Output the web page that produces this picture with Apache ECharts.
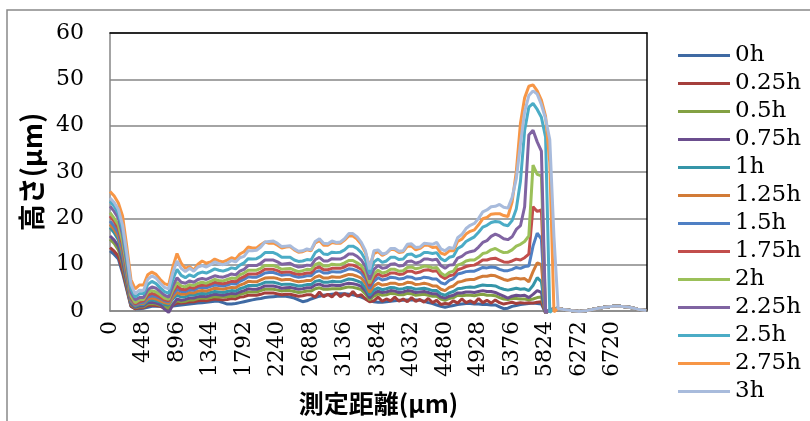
<!DOCTYPE html>
<html>
<head>
<meta charset="utf-8">
<script src="https://cdn.jsdelivr.net/npm/echarts@6/dist/echarts.min.js"></script>
<style>
  html, body { margin: 0; padding: 0; background: #fff; }
  #chart { width: 810px; height: 421px; }
</style>
</head>
<body>
<div id="chart"></div>
<script>
// Measuring positions along the profile (µm)
const distance = [
  0,56,112,168,224,280,336,392,448,504,560,616,672,728,784,840,896,952,1008,1064,
  1120,1176,1232,1288,1344,1400,1456,1512,1568,1624,1680,1736,1792,1848,1904,1960,2016,2072,2128,2184,
  2240,2296,2352,2408,2464,2520,2576,2632,2688,2744,2800,2856,2912,2968,3024,3080,3136,3192,3248,3304,
  3360,3416,3472,3528,3584,3640,3696,3752,3808,3864,3920,3976,4032,4088,4144,4200,4256,4312,4368,4424,
  4480,4536,4592,4648,4704,4760,4816,4872,4928,4984,5040,5096,5152,
  5208,5264,5320,5376,5432,5488,5544,5600,5656,5712,5768,5824,5880,5936,5992,6048,
  6160,6272,6384,6496,6608,6720,6832,6944,7056,7168
];

// Height (µm) at each position, one array per elapsed time
const h0 = [
  13.0,12.2,11.2,8.2,4.6,1.0,0.5,0.5,0.6,0.8, 1.0,1.0,1.0,1.0,1.0,1.1,1.2,1.3,1.4,1.5,
  1.6,1.7,1.8,1.9,2.0,2.1,2.1,1.8,1.5,1.5, 1.6,1.8,2.0,2.2,2.4,2.6,2.7,2.9,3.0,3.1,
  3.2,3.2,3.2,3.0,2.8,2.4,2.0,2.2,2.6,2.9, 3.2,3.4,3.5,3.6,3.7,3.7,3.7,3.6,3.5,3.3,
  3.0,2.6,2.2,2.0,1.9,1.9,2.0,2.1,2.2,2.3, 2.3,2.4,2.4,2.4,2.3,2.1,1.8,1.6,1.3,1.0,
  0.8,1.0,1.2,1.4,1.5,1.6,1.6,1.5,1.5,1.4, 1.4,1.3,1.3,
  0.9,0.5,0.6,1.0,1.2,1.4,1.5,1.6,1.7,1.6,1.5,
  -0.4,0.2,0.5,0.6,0.4,0.1,-0.1,0.1,0.5,0.8,1.0,1.0,0.8,0.4,0.1];
const h025 = [
  13.7,12.9,11.8,8.8,5.0,1.1,0.5,0.7,0.7,1.2, 1.3,1.2,1.0,0.6,0.5,1.2,1.8,1.7,1.8,2.0,
  2.0,2.2,2.3,2.2,2.4,2.6,2.5,2.4,2.5,2.7, 2.6,3.0,3.1,3.4,3.4,3.4,3.6,3.9,3.9,3.9,
  3.7,3.5,3.6,3.6,3.4,3.2,3.3,3.5,3.5,3.0, 4.1,3.1,3.6,3.0,4.0,3.1,3.7,3.2,4.2,3.2,
  3.5,2.6,2.0,2.2,3.0,2.1,2.6,2.2,3.0,2.1, 2.6,2.0,2.9,2.1,2.5,1.9,2.7,1.8,2.3,1.4,
  1.6,1.5,2.2,1.7,2.6,1.8,2.2,1.7,2.7,1.8, 2.3,1.7,2.4,
  1.8,1.5,1.7,1.9,1.6,1.8,1.7,1.8,1.7,1.9,2.0,
  -0.4,0.2,0.5,0.6,0.4,0.1,-0.1,0.1,0.5,0.8,1.0,1.0,0.8,0.4,0.1];
const h05 = [
  15.5,14.6,13.2,10.0,5.6,1.4,0.7,0.9,0.9,1.5, 1.6,1.5,1.2,0.8,0.6,1.5,2.2,2.0,2.1,2.4,
  2.4,2.7,2.8,2.7,2.9,3.1,3.0,3.0,3.1,3.2, 3.2,3.6,3.8,4.1,4.1,4.1,4.4,4.7,4.7,4.7,
  4.5,4.3,4.4,4.4,4.2,4.0,4.1,4.3,4.3,4.8, 5.0,4.7,4.7,4.8,4.8,4.8,5.0,5.2,5.1,4.9,
  4.6,3.7,2.4,3.2,3.7,3.4,3.5,3.8,3.7,3.5, 3.5,3.8,3.7,3.4,3.5,3.6,3.4,3.2,3.2,2.6,
  2.3,2.7,2.9,3.4,3.3,3.4,3.4,3.3,3.5,3.6, 3.4,3.4,3.3,
  2.9,2.6,2.5,2.7,2.7,2.6,2.6,2.4,2.6,2.9,3.0,
  -0.4,0.2,0.5,0.6,0.4,0.1,-0.1,0.1,0.5,0.8,1.0,1.0,0.8,0.4,0.1];
const h075 = [
  16.2,15.3,14.0,10.6,6.2,1.6,0.8,1.1,1.1,1.8, 1.9,1.7,1.4,0.4,-0.3,1.3,2.6,2.3,2.5,2.8,
  2.8,3.1,3.2,3.1,3.4,3.6,3.5,3.4,3.6,3.8, 3.7,4.1,4.4,4.8,4.7,4.7,5.0,5.4,5.4,5.4,
  5.2,4.9,5.0,5.1,4.9,4.7,4.8,5.0,5.0,5.6, 5.8,5.4,5.4,5.6,5.5,5.5,5.8,6.0,5.9,5.7,
  5.3,4.3,2.8,3.8,4.3,4.0,4.1,4.4,4.3,4.0, 4.1,4.4,4.3,4.0,4.1,4.2,4.0,3.7,3.7,3.0,
  2.8,3.2,3.4,3.9,3.9,4.1,4.1,4.0,4.2,4.4, 4.2,4.2,4.0,
  3.6,3.2,2.8,3.2,3.4,3.3,3.4,2.9,3.6,4.4,4.0,
  -0.4,0.2,0.5,0.6,0.4,0.1,-0.1,0.1,0.5,0.8,1.0,1.0,0.8,0.4,0.1];
const h1 = [
  18.0,16.9,15.3,11.8,7.0,2.0,1.0,1.4,1.4,2.2, 2.4,2.2,1.9,1.5,1.4,2.6,3.4,3.0,3.1,3.5,
  3.4,3.7,3.8,3.7,4.0,4.2,4.1,4.0,4.2,4.4, 4.3,4.8,5.1,5.5,5.5,5.5,5.8,6.2,6.2,6.2,
  6.0,5.7,5.8,5.8,5.6,5.4,5.5,5.7,5.7,6.4, 6.6,6.2,6.2,6.4,6.3,6.3,6.6,6.9,6.8,6.5,
  6.1,5.0,3.4,4.5,5.0,4.6,4.8,5.1,5.0,4.7, 4.8,5.1,5.0,4.7,4.8,4.9,4.7,4.4,4.4,3.7,
  3.4,3.9,4.2,4.8,4.9,5.1,5.2,5.1,5.4,5.6, 5.5,5.5,5.4,
  5.0,4.7,4.5,4.7,4.9,4.7,4.8,4.4,5.5,7.2,6.3,
  -0.4,0.2,0.5,0.6,0.4,0.1,-0.1,0.1,0.5,0.8,1.0,1.0,0.8,0.4,0.1];
const h125 = [
  18.7,17.6,16.0,12.6,7.5,2.3,1.2,1.6,1.6,2.6, 2.8,2.6,2.2,1.8,1.6,3.0,4.0,3.6,3.6,4.0,
  3.9,4.3,4.4,4.3,4.6,4.9,4.8,4.7,4.9,5.1, 5.0,5.6,5.9,6.4,6.3,6.3,6.7,7.1,7.2,7.2,
  7.0,6.7,6.8,6.8,6.5,6.3,6.4,6.6,6.6,7.3, 7.6,7.1,7.1,7.4,7.3,7.3,7.6,7.9,7.8,7.5,
  7.1,6.0,4.0,5.4,6.0,5.6,5.7,6.0,6.0,5.7, 5.8,6.2,6.1,5.7,5.8,6.0,5.8,5.4,5.4,4.7,
  4.4,5.1,5.4,6.2,6.4,6.7,6.8,6.8,7.2,7.5, 7.5,7.7,7.6,
  7.2,6.8,6.6,6.9,7.1,6.9,7.0,6.3,8.5,10.4,10.0,
  -0.4,0.2,0.5,0.6,0.4,0.1,-0.1,0.1,0.5,0.8,1.0,1.0,0.8,0.4,0.1];
const h15 = [
  19.4,18.3,16.8,13.4,8.2,2.6,1.3,1.8,1.9,3.0, 3.3,3.1,2.7,2.2,2.0,3.6,4.7,4.2,4.2,4.6,
  4.5,5.0,5.1,5.0,5.3,5.6,5.5,5.4,5.6,5.9, 5.8,6.4,6.8,7.4,7.3,7.3,7.7,8.2,8.3,8.3,
  8.0,7.7,7.8,7.8,7.5,7.3,7.4,7.6,7.6,8.4, 8.7,8.2,8.2,8.5,8.4,8.4,8.7,9.1,9.0,8.7,
  8.2,7.0,4.8,6.4,7.2,6.7,6.9,7.3,7.2,6.9, 7.0,7.4,7.3,6.9,7.0,7.3,7.2,6.9,6.9,6.1,
  5.8,6.6,7.0,8.0,8.2,8.5,8.6,8.6,9.0,9.4, 9.3,9.5,9.4,
  9.0,8.7,8.7,9.0,9.4,9.2,9.6,9.7,14.0,16.8,15.5,
  -0.4,0.2,0.5,0.6,0.4,0.1,-0.1,0.1,0.5,0.8,1.0,1.0,0.8,0.4,0.1];
const h175 = [
  20.5,19.3,17.8,14.2,8.8,2.9,1.5,2.0,2.2,3.4, 3.8,3.5,3.0,2.4,2.2,4.1,5.4,4.7,4.6,5.1,
  4.9,5.4,5.6,5.5,5.8,6.2,6.0,5.9,6.1,6.4, 6.3,7.0,7.4,8.0,8.0,8.0,8.4,9.0,9.0,9.0,
  8.7,8.3,8.4,8.4,8.1,7.9,8.0,8.2,8.2,9.2, 9.5,8.9,8.9,9.2,9.2,9.2,9.5,10.0,9.9,9.5,
  9.0,7.8,5.4,7.2,8.0,7.5,7.7,8.2,8.2,7.9, 8.0,8.6,8.6,8.2,8.4,8.8,8.9,8.6,8.7,7.5,
  7.0,7.6,7.8,8.9,9.2,9.6,9.8,9.9,10.4,11.0, 11.0,11.3,11.4,
  11.0,10.6,10.5,10.8,11.2,11.0,11.5,12.3,22.5,21.5,21.8,
  -0.4,0.2,0.5,0.6,0.4,0.1,-0.1,0.1,0.5,0.8,1.0,1.0,0.8,0.4,0.1];
const h2 = [
  21.2,20.0,18.6,15.0,9.5,3.3,1.8,2.4,2.5,4.0, 4.4,4.1,3.5,2.8,2.5,4.6,6.2,5.4,5.2,5.7,
  5.5,6.0,6.2,6.0,6.4,6.8,6.6,6.5,6.8,7.1, 7.0,7.8,8.2,8.8,8.8,8.8,9.2,9.8,9.8,9.8,
  9.5,9.0,9.1,9.2,8.8,8.5,8.7,9.0,8.9,10.0, 10.4,9.7,9.7,10.1,10.0,10.0,10.4,10.9,10.9,10.4,
  9.8,8.5,6.0,8.0,8.8,8.2,8.4,9.0,9.0,8.6, 8.7,9.4,9.5,9.1,9.3,9.7,9.6,9.3,9.4,8.2,
  7.6,8.3,8.6,9.9,10.2,10.8,11.0,11.0,11.6,12.4, 12.6,13.2,13.5,
  13.0,12.6,12.7,13.2,14.0,14.4,15.0,16.2,31.5,29.5,29.2,
  -0.4,0.2,0.5,0.6,0.4,0.1,-0.1,0.1,0.5,0.8,1.0,1.0,0.8,0.4,0.1];
const h225 = [
  22.6,21.5,20.0,16.5,10.5,4.0,2.4,2.9,2.9,4.6, 5.2,4.9,4.2,3.4,3.0,5.4,7.2,6.2,6.0,6.5,
  6.2,6.8,7.0,6.8,7.2,7.6,7.4,7.3,7.6,8.0, 7.8,8.6,9.0,9.8,9.8,9.8,10.3,11.0,11.0,11.0,
  10.6,10.1,10.2,10.3,9.8,9.5,9.6,9.9,9.8,11.1, 11.6,10.8,10.8,11.3,11.2,11.2,11.6,12.3,12.3,11.8,
  11.0,9.6,6.8,9.0,9.8,9.2,9.4,10.1,10.2,9.7, 9.8,10.7,10.8,10.3,10.6,11.2,11.2,11.0,11.2,9.8,
  9.2,9.9,10.0,11.4,11.8,12.5,12.8,13.0,13.8,14.8, 15.2,16.1,16.6,
  16.2,15.6,15.4,16.0,17.6,18.4,22.5,38.0,39.0,36.5,34.5,
  -0.4,0.2,0.5,0.6,0.4,0.1,-0.1,0.1,0.5,0.8,1.0,1.0,0.8,0.4,0.1];
const h25 = [
  23.7,22.6,21.0,17.5,11.5,4.8,3.0,3.7,3.7,5.7, 6.4,5.9,5.0,4.2,3.8,6.8,9.0,7.7,7.2,7.8,
  7.4,8.1,8.4,8.2,8.6,9.1,8.8,8.6,8.9,9.3, 9.1,9.9,10.4,11.3,11.2,11.3,11.8,12.6,12.6,12.6,
  12.2,11.6,11.6,11.6,11.0,10.7,10.8,11.1,11.0,12.6, 13.2,12.3,12.2,12.7,12.6,12.7,13.2,14.0,14.0,13.5,
  12.6,11.0,8.0,10.6,11.2,10.5,10.8,11.6,11.6,11.1, 11.2,12.2,12.3,11.7,12.0,12.6,12.6,12.4,12.6,11.3,
  10.8,11.6,11.8,13.5,14.0,15.0,15.5,16.0,17.0,18.1, 18.5,19.1,19.3,
  19.2,18.6,18.4,19.5,22.0,28.0,39.0,44.0,44.8,43.5,41.8,
  37.5,-0.3,0.5,0.6,0.4,0.1,-0.1,0.1,0.5,0.8,1.0,1.0,0.8,0.4,0.1];
const h275 = [
  25.8,24.8,23.3,20.5,14.0,6.8,4.8,5.6,5.6,7.8, 8.4,7.9,6.8,5.9,5.6,9.5,12.4,10.3,9.2,9.6,
  8.8,10.1,10.8,10.3,10.6,11.2,10.8,10.6,11.0,11.5, 11.2,12.3,12.8,13.8,13.6,13.6,14.3,14.9,14.6,14.7,
  14.2,13.6,13.8,13.9,13.2,12.7,12.8,13.2,13.0,14.7, 15.2,14.2,14.2,14.8,14.6,14.6,15.3,16.2,16.2,15.5,
  14.4,12.6,9.5,12.4,12.8,12.0,12.5,13.3,13.2,12.6, 12.8,14.0,14.0,13.2,13.5,14.2,14.2,13.7,13.8,12.5,
  12.2,13.0,13.0,15.0,15.5,16.6,17.2,17.5,18.6,19.9, 20.2,20.9,21.0,
  21.0,20.6,20.4,23.5,30.0,40.5,46.0,48.5,48.8,47.5,45.5,
  42.0,32.0,-0.2,0.6,0.4,0.1,-0.1,0.1,0.5,0.8,1.0,1.0,0.8,0.4,0.1];
const h3 = [
  24.4,23.4,21.9,18.5,12.5,5.8,3.7,4.5,4.4,6.8, 7.6,7.1,6.0,5.1,4.8,8.3,10.8,9.2,8.5,9.2,
  8.6,9.5,9.8,9.5,10.0,10.6,10.2,10.0,10.3,10.9, 10.6,11.5,11.8,13.0,13.0,13.1,13.8,14.9,15.0,15.1,
  14.6,13.9,14.0,14.1,13.4,12.9,13.0,13.4,13.2,15.0, 15.6,14.6,14.5,15.1,14.8,14.9,15.6,16.7,16.7,16.0,
  14.8,13.0,9.0,13.0,13.2,12.3,12.5,13.5,13.5,12.9, 13.0,14.4,14.5,13.7,13.8,14.6,14.5,14.4,14.8,13.4,
  13.0,13.7,13.5,15.8,16.5,17.8,18.5,18.9,20.0,21.4, 21.8,22.5,22.6,
  23.0,22.4,22.2,24.5,28.5,36.0,43.0,46.5,47.5,46.8,44.5,
  41.5,37.0,16.0,0.5,0.4,0.1,-0.1,0.1,0.5,0.8,1.0,1.0,0.8,0.4,0.1];

const seriesNames = ['0h','0.25h','0.5h','0.75h','1h','1.25h','1.5h','1.75h','2h','2.25h','2.5h','2.75h','3h'];
const seriesValues = [h0,h025,h05,h075,h1,h125,h15,h175,h2,h225,h25,h275,h3];
const seriesColors = ['#3F6AA3','#A53F3C','#83A143','#6B4E8E','#3595A8','#D27B37',
  '#4F80C4','#C24E4C','#9BC059','#8064A2','#4BACC6','#F79646','#A8BBDC'];

const serif = '"DejaVu Serif", serif';
const sans = '"Noto Sans CJK JP", "Noto Sans", sans-serif';

const chart = echarts.init(document.getElementById('chart'), null, { renderer: 'canvas' });
chart.setOption({
  animation: false,
  backgroundColor: '#fff',
  graphic: [{
    type: 'rect', silent: true, z: -10,
    shape: { x: 7, y: 10, width: 900, height: 600 },
    style: { fill: 'none', stroke: '#898989', lineWidth: 1.5 }
  }],
  grid: {
    left: 110, top: 33, right: 163, bottom: 109,
    show: false
  },
  legend: {
    orient: 'vertical', left: 678, top: 44, padding: 0,
    icon: 'rect', itemWidth: 52, itemHeight: 3, itemGap: 5,
    textStyle: { fontFamily: serif, fontSize: 23, lineHeight: 23, color: '#000' },
    data: seriesNames
  },
  xAxis: [{
    type: 'value', min: 0, max: 7180, interval: 448,
    name: '測定距離(μm)', nameLocation: 'middle', nameGap: 80,
    nameTextStyle: { fontFamily: sans, fontWeight: 'bold', fontSize: 25, color: '#000' },
    axisLine: { show: true, onZero: false, lineStyle: { color: '#868686', width: 1.5 } },
    axisTick: { show: false },
    splitLine: { show: false },
    axisLabel: {
      rotate: 90, margin: 10, fontFamily: serif, fontSize: 22, color: '#000',
      showMaxLabel: false,
      formatter: v => (v > 7000 ? '' : String(v))
    }
  }, {
    // plain black frame edge along the top of the plot area
    type: 'value', position: 'top', min: 0, max: 7180,
    axisLine: { show: true, onZero: false, lineStyle: { color: '#000', width: 1.5 } },
    axisTick: { show: false }, axisLabel: { show: false }, splitLine: { show: false }
  }],
  yAxis: [{
    type: 'value', min: 0, max: 60, interval: 10,
    name: '高さ(μm)', nameLocation: 'middle', nameGap: 63,
    nameTextStyle: { fontFamily: sans, fontWeight: 'bold', fontSize: 27, color: '#000' },
    axisLine: { show: true, lineStyle: { color: '#868686', width: 1.5 } },
    axisTick: { show: false },
    splitLine: { show: true, lineStyle: { color: '#868686', width: 1.5 } },
    axisLabel: { margin: 26, fontFamily: serif, fontSize: 22, color: '#000' }
  }, {
    // plain black frame edge along the right of the plot area
    type: 'value', position: 'right', min: 0, max: 60,
    axisLine: { show: true, onZero: false, lineStyle: { color: '#000', width: 1.5 } },
    axisTick: { show: false }, axisLabel: { show: false }, splitLine: { show: false }
  }],
  series: seriesNames.map((name, k) => ({
    name: name,
    type: 'line',
    symbol: 'none',
    showSymbol: false,
    clip: false,
    color: seriesColors[k],
    lineStyle: { width: 3, color: seriesColors[k] },
    data: distance.map((d, i) => [d, seriesValues[k][i]])
  }))
});
</script>
</body>
</html>
